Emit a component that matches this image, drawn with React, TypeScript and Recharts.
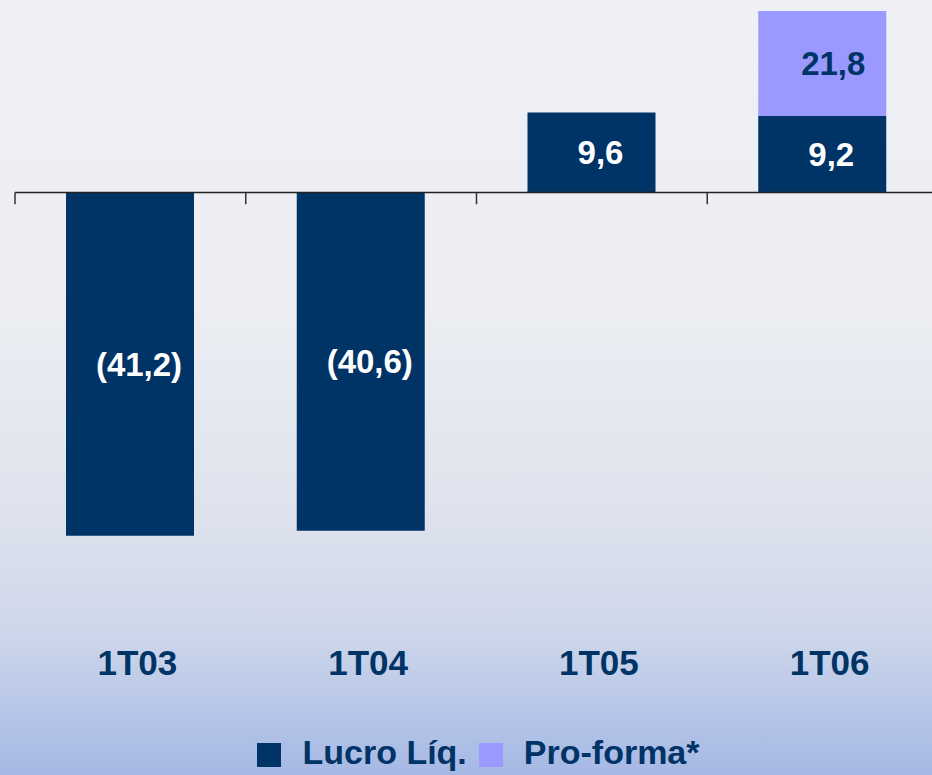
import {
  BarChart,
  Bar,
  XAxis,
  YAxis,
  Legend,
  LabelList,
  ReferenceLine,
} from "recharts";

const quarters = ["1T03", "1T04", "1T05", "1T06"];
const lucroLiq = [-41.2, -40.6, 9.6, 9.2];
// pro-forma total (label shows the total, bar shows the part above Lucro Líq.)
const proForma = [null, null, null, 21.8];

const NAVY = "#003366";
const LILAC = "#9999ff";

const data = quarters.map((q, i) => ({
  quarter: q,
  lucro: lucroLiq[i],
  proFormaTotal: proForma[i],
  proFormaExtra: proForma[i] == null ? null : +(proForma[i]! - lucroLiq[i]).toFixed(1),
}));

const fmt = (v: any) => {
  if (v == null) return "";
  const s = Math.abs(Number(v)).toFixed(1).replace(".", ",");
  return Number(v) < 0 ? `(${s})` : s;
};

export default function App() {
  return (
    <div
      style={{
        position: "absolute",
        left: 0,
        top: 0,
        width: 932,
        height: 775,
        overflow: "hidden",
        fontFamily: "'Liberation Sans', Arial, sans-serif",
        background:
          "linear-gradient(to bottom, #eef0f5 0%, #eceef3 40%, #dfe3ed 65%, #cdd6ea 82%, #b4c4e8 93%, #a6b8e4 100%)",
      }}
    >
      <BarChart
        width={940}
        height={775}
        data={data}
        margin={{ top: 1, right: 2, left: 15, bottom: 0 }}
        barSize={128}
      >
        <XAxis
          dataKey="quarter"
          axisLine={false}
          tickLine={false}
          tickSize={0}
          tickMargin={41}
          height={120}
          tick={{ fontSize: 35, fontWeight: "bold", fill: NAVY, dx: 7 }}
        />
        <YAxis hide domain={[-50, 23]} />
        <ReferenceLine y={0} stroke="#222" strokeWidth={1.5} />
        {quarters.map((q) => (
          <ReferenceLine
            key={q}
            position="start"
            segment={[
              { x: q, y: 0 },
              { x: q, y: -1.4 },
            ]}
            stroke="#333"
            strokeWidth={1.5}
          />
        ))}
        <Bar
          dataKey="lucro"
          name="Lucro Líq."
          stackId="a"
          fill={NAVY}
          isAnimationActive={false}
        >
          <LabelList
            dataKey="lucro"
            position="center"
            formatter={fmt}
            fill="#ffffff"
            fontSize={33}
            fontWeight="bold"
            dx={9}
          />
        </Bar>
        <Bar
          dataKey="proFormaExtra"
          name="Pro-forma*"
          stackId="a"
          fill={LILAC}
          isAnimationActive={false}
        >
          <LabelList
            dataKey="proFormaTotal"
            position="center"
            formatter={fmt}
            fill={NAVY}
            fontSize={33}
            fontWeight="bold"
            dx={11}
          />
        </Bar>
        <Legend
          verticalAlign="bottom"
          iconType="square"
          iconSize={24}
          wrapperStyle={{
            height: 46,
            lineHeight: "46px",
            fontSize: 34,
            fontWeight: "bold",
            paddingLeft: 8,
          }}
          formatter={(value: string) => (
            <span style={{ color: NAVY, marginLeft: 17, marginRight: 2 }}>{value}</span>
          )}
        />
      </BarChart>
    </div>
  );
}
